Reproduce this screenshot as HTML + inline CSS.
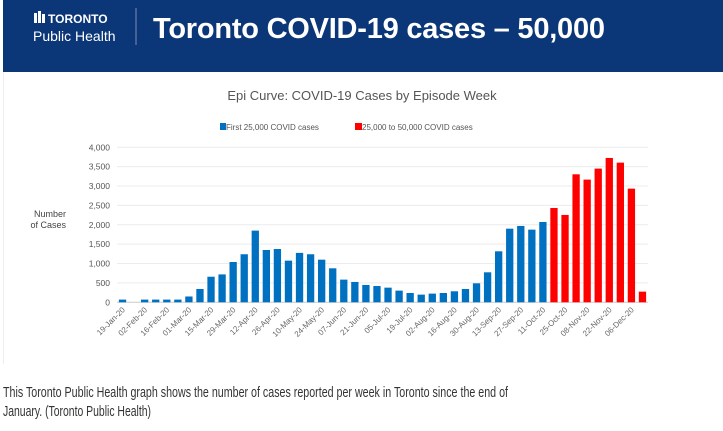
<!DOCTYPE html>
<html><head><meta charset="utf-8"><style>
html,body{margin:0;padding:0;background:#fff;width:723px;height:431px;overflow:hidden}
svg{display:block;font-family:"Liberation Sans",Arial,sans-serif}
</style></head><body>
<svg width="723" height="431" viewBox="0 0 723 431">
<rect x="3" y="0" width="720" height="72" fill="#0b3678"/>
<g>
<rect x="34" y="13" width="3" height="10" fill="#fff"/><rect x="38" y="11" width="3" height="12" fill="#fff"/><rect x="42" y="14" width="3" height="9" fill="#fff"/>
<text x="48" y="23" fill="#fff" font-size="12" font-weight="bold">TORONTO</text>
<text x="33" y="41" fill="#fff" font-size="14">Public Health</text>
</g>
<line x1="136" y1="8" x2="136" y2="45" stroke="#7f8fb0" stroke-width="1"/>
<text x="153" y="38" fill="#fff" font-size="29" font-weight="bold" textLength="452">Toronto COVID-19 cases – 50,000</text>
<line x1="3.5" y1="72" x2="3.5" y2="364" stroke="#eee"/>
<text x="362" y="100" text-anchor="middle" fill="#555" font-size="13">Epi Curve: COVID-19 Cases by Episode Week</text>
<g>
<rect x="220" y="123" width="6" height="7" fill="#0070c0"/>
<text x="226" y="130" fill="#555" font-size="8">First 25,000 COVID cases</text>
<rect x="355" y="123" width="7" height="7" fill="#ff0000"/>
<text x="362" y="130" fill="#555" font-size="8">25,000 to 50,000 COVID cases</text>
</g>
<text x="66" y="217" text-anchor="end" fill="#444" font-size="9"><tspan x="66">Number</tspan><tspan x="66" dy="11">of Cases</tspan></text>
<g id="grid"></g><g id="bars"></g><g id="ylabels"></g><g id="xlabels"></g>
<text x="3" y="397" fill="#333" font-size="15" textLength="505" lengthAdjust="spacingAndGlyphs">This Toronto Public Health graph shows the number of cases reported per week in Toronto since the end of</text>
<text x="3" y="416" fill="#333" font-size="15" textLength="148" lengthAdjust="spacingAndGlyphs">January. (Toronto Public Health)</text>
</svg>
<script>
const weeks=["19-Jan-20","26-Jan-20","02-Feb-20","09-Feb-20","16-Feb-20","23-Feb-20","01-Mar-20","08-Mar-20","15-Mar-20","22-Mar-20","29-Mar-20","05-Apr-20","12-Apr-20","19-Apr-20","26-Apr-20","03-May-20","10-May-20","17-May-20","24-May-20","31-May-20","07-Jun-20","14-Jun-20","21-Jun-20","28-Jun-20","05-Jul-20","12-Jul-20","19-Jul-20","26-Jul-20","02-Aug-20","09-Aug-20","16-Aug-20","23-Aug-20","30-Aug-20","06-Sep-20","13-Sep-20","20-Sep-20","27-Sep-20","04-Oct-20","11-Oct-20","18-Oct-20","25-Oct-20","01-Nov-20","08-Nov-20","15-Nov-20","22-Nov-20","29-Nov-20","06-Dec-20","13-Dec-20"];
const firstCases=[70,0,70,70,70,70,150,344,660,720,1040,1240,1850,1350,1375,1075,1275,1240,1100,877,585,525,447,420,378,301,240,198,224,240,284,344,490,774,1316,1900,1970,1875,2073,0,0,0,0,0,0,0,0,0];
const secondCases=[0,0,0,0,0,0,0,0,0,0,0,0,0,0,0,0,0,0,0,0,0,0,0,0,0,0,0,0,0,0,0,0,0,0,0,0,0,0,0,2434,2254,3303,3166,3450,3725,3604,2933,275];
const yTicks=[0,500,1000,1500,2000,2500,3000,3500,4000];
const yTickLabels=["0","500","1,000","1,500","2,000","2,500","3,000","3,500","4,000"];
const NS="http://www.w3.org/2000/svg";
const x0=117,x1=648,y0=302.3,yTop=147.3,yMax=4000;
const step=(x1-x0)/weeks.length;
const yS=v=>y0-(v/yMax)*(y0-yTop);
const xS=i=>x0+i*step;
function mk(tag,attrs,parent){const e=document.createElementNS(NS,tag);for(const k in attrs)e.setAttribute(k,attrs[k]);document.getElementById(parent).appendChild(e);return e;}
yTicks.forEach((t,i)=>{
  const g=mk('line',{x1:x0,x2:x1,y1:yS(t),y2:yS(t),stroke:t===0?'#ccc':'#ececec','stroke-width':1},'grid');
  
  
  const l=mk('text',{x:110,y:yS(t)+3,'text-anchor':'end','font-size':8.5,fill:'#555'},'ylabels');
  l.textContent=yTickLabels[i];
  
  
});
weeks.forEach((w,i)=>{
  const bw=step*0.66, bx=xS(i)+(step-bw)/2;
  if(firstCases[i]>0){
    const r=mk('rect',{x:bx,y:yS(firstCases[i]),width:bw,height:y0-yS(firstCases[i]),fill:'#0070c0'},'bars');
    
    
  }
  if(secondCases[i]>0){
    const r=mk('rect',{x:bx,y:yS(secondCases[i]),width:bw,height:y0-yS(secondCases[i]),fill:'#ff0000'},'bars');
    
    
  }
  if(i%2===0){
    const cx=xS(i)+step/2+3, cy=y0+8;
    const t=mk('text',{x:cx,y:cy,'text-anchor':'end','font-size':8,fill:'#666',transform:`rotate(-45 ${cx} ${cy})`},'xlabels');
    t.textContent=w;
    
    
  }
});
</script>
</body></html>
